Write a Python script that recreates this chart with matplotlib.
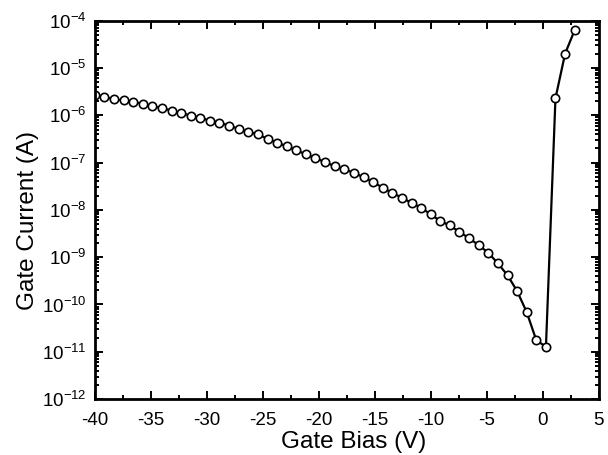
import math
import matplotlib
matplotlib.use("Agg")
import matplotlib.pyplot as plt
from matplotlib.ticker import FixedLocator, LogLocator, FuncFormatter, NullFormatter

plt.rcParams['font.family'] = ['Liberation Sans', 'DejaVu Sans']
plt.rcParams['mathtext.fontset'] = 'custom'
plt.rcParams['mathtext.rm'] = 'Liberation Sans'
plt.rcParams['mathtext.it'] = 'Liberation Sans'
plt.rcParams['axes.unicode_minus'] = False

gate_bias = [-40.00, -39.14, -38.29, -37.43, -36.57, -35.71, -34.86, -34.00, -33.14, -32.29,
             -31.43, -30.57, -29.71, -28.86, -28.00, -27.14, -26.29, -25.43, -24.57, -23.71,
             -22.86, -22.00, -21.14, -20.29, -19.43, -18.57, -17.71, -16.86, -16.00, -15.14,
             -14.29, -13.43, -12.57, -11.71, -10.86, -10.00, -9.14, -8.29, -7.43, -6.57,
             -5.71, -4.86, -4.00, -3.14, -2.29, -1.43, -0.57, 0.29, 1.14, 2.00, 2.86]
gate_current = [2.65e-6, 2.44e-6, 2.19e-6, 2.06e-6, 1.91e-6, 1.76e-6, 1.57e-6, 1.41e-6, 1.26e-6, 1.12e-6,
                9.8e-7, 8.9e-7, 7.7e-7, 6.98e-7, 6.03e-7, 5.13e-7, 4.43e-7, 3.98e-7, 3.16e-7, 2.64e-7,
                2.21e-7, 1.82e-7, 1.50e-7, 1.23e-7, 1.03e-7, 8.35e-8, 7.2e-8, 6.1e-8, 4.89e-8, 3.89e-8,
                2.94e-8, 2.28e-8, 1.81e-8, 1.40e-8, 1.11e-8, 8.07e-9, 5.8e-9, 4.68e-9, 3.41e-9, 2.52e-9,
                1.79e-9, 1.24e-9, 7.4e-10, 4.14e-10, 1.93e-10, 6.9e-11, 1.75e-11, 1.28e-11, 2.29e-6, 2.01e-5,
                6.36e-5]

x_ticks = [-40, -35, -30, -25, -20, -15, -10, -5, 0, 5]
y_exponents = [-12, -11, -10, -9, -8, -7, -6, -5, -4]

fig = plt.figure(figsize=(6.08, 4.55), dpi=100)
ax = fig.add_axes([0.1558, 0.1229, 0.8289, 0.8316])

ax.plot(gate_bias, gate_current, color='black', linewidth=1.6,
        marker='o', markersize=6.0, markerfacecolor='white',
        markeredgecolor='black', markeredgewidth=1.2)

ax.set_yscale('log')
ax.set_xlim(-40, 5)
ax.set_ylim(1e-12, 1e-4)

ax.xaxis.set_major_locator(FixedLocator(x_ticks))
ax.xaxis.set_minor_locator(FixedLocator([t + 2.5 for t in x_ticks[:-1]]))
ax.yaxis.set_major_locator(FixedLocator([10.0 ** e for e in y_exponents]))
ax.yaxis.set_minor_locator(LogLocator(base=10, subs=range(2, 10), numticks=20))
ax.yaxis.set_minor_formatter(NullFormatter())
ax.yaxis.set_major_formatter(FuncFormatter(
    lambda v, p: r'$\mathregular{10^{%d}}$' % round(math.log10(v))))
ax.xaxis.set_major_formatter(FuncFormatter(lambda v, p: '%d' % v))

ax.tick_params(which='both', direction='in', top=True, right=True, width=1.4)
ax.tick_params(axis='x', labelsize=13.5, pad=9)
ax.tick_params(axis='y', labelsize=13.5, pad=6)
ax.tick_params(which='major', length=6)
ax.tick_params(which='minor', length=3)
for s in ax.spines.values():
    s.set_linewidth(2)

ax.set_xlabel('Gate Bias (V)', fontsize=17.5)
ax.set_ylabel('Gate Current (A)', fontsize=17.5)
ax.xaxis.set_label_coords(0.5145, -0.084)
ax.yaxis.set_label_coords(-0.1115, 0.473)

fig.savefig('out.png', dpi=100)
